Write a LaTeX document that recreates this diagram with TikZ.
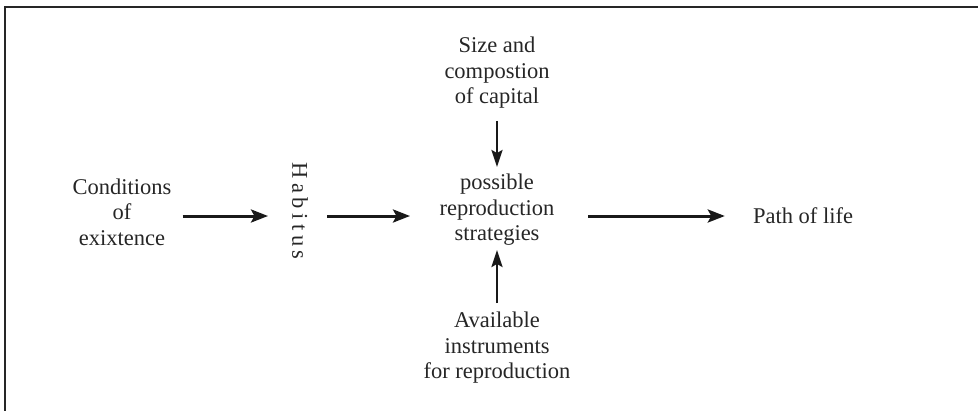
\documentclass[tikz,border=0pt]{standalone}
\usepackage{fontspec}
\setmainfont{Liberation Serif}
\usetikzlibrary{arrows.meta,calc}
\begin{document}
\begin{tikzpicture}[x=1pt,y=1pt,
  lbl/.style={align=center, font=\fontsize{22.5}{25.5}\selectfont, inner sep=0pt, text=black!85},
  arr/.style={line width=3pt, black!90, -{Stealth[length=17pt,width=13pt,inset=3.5pt]}},
  varr/.style={line width=2.5pt, black!90, -{Stealth[length=17pt,width=11pt,inset=3pt]}}]
\useasboundingbox (0,0) rectangle (978,-410);
\draw[line width=1.8pt, black!85] (5,-420) -- (5,-7) -- (990,-7);
\coordinate (row) at (0,-216);
\node[lbl] (cond) at (122,-212) {Conditions\\of\\exixtence};
\node[lbl, rotate=-90] (hab) at (300,-211) {H\kern4.5pt a\kern4.5pt b\kern4.5pt i\kern4.5pt t\kern4.5pt u\kern4.5pt s};
\node[lbl] (strat) at (497,-210) {possible\\reproduction\\strategies};
\node[lbl, anchor=base] (path) at (803,-223) {Path of life};
\node[lbl] (size) at (497,-73) {Size and\\compostion\\of capital};
\node[lbl] (avail) at (497,-348) {Available\\instruments\\for reproduction};
\draw[arr] ($(cond.east |- row)+(11,0)$) -- ($(hab.center |- row)+(-32,0)$);
\draw[arr] ($(hab.center |- row)+(27,0)$) -- ($(strat.center |- row)+(-87,0)$);
\draw[arr] ($(strat.center |- row)+(91,0)$) -- ($(path.west |- row)+(-28,0)$);
\draw[varr] ($(size.south)+(0,-12)$) -- ($(strat.center)+(0,43)$);
\draw[varr] ($(avail.north)+(0,9)$) -- ($(strat.center)+(0,-40)$);
\end{tikzpicture}
\end{document}
